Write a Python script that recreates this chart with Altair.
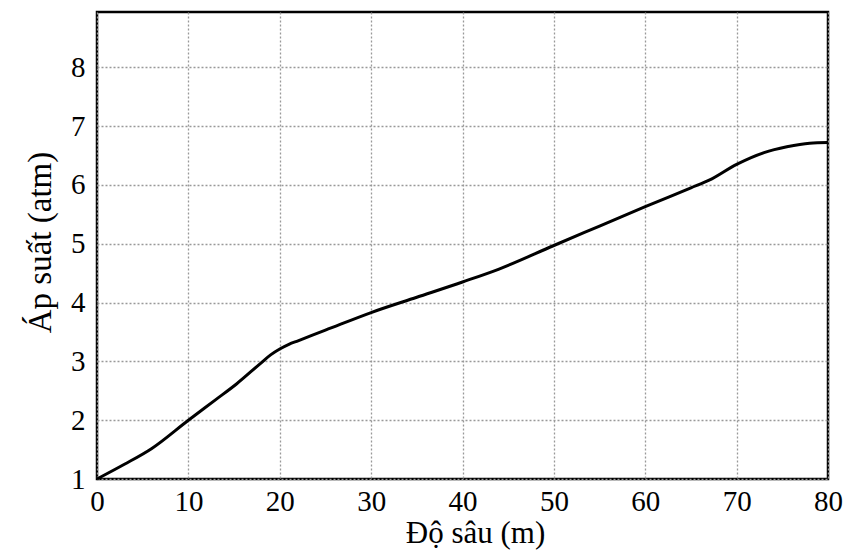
import altair as alt
import pandas as pd

depth = [0, 3, 6, 10, 13, 15.3, 18, 19, 20, 21, 22, 25, 30, 35, 40, 44, 50, 55, 60, 65, 67, 70, 73, 75.5, 78, 80]
pressure = [1.0, 1.25, 1.52, 2.0, 2.35, 2.62, 2.98, 3.11, 3.21, 3.29, 3.35, 3.53, 3.83, 4.09, 4.35, 4.57, 4.97, 5.30, 5.63, 5.95, 6.08, 6.35, 6.55, 6.65, 6.71, 6.72]
x_ticks = [0, 10, 20, 30, 40, 50, 60, 70, 80]
y_ticks = [1, 2, 3, 4, 5, 6, 7, 8]

df = pd.DataFrame({"depth": depth, "pressure": pressure})

FONT = "Liberation Serif"

chart = alt.Chart(df).mark_line(color="black", strokeWidth=3, interpolate="monotone").encode(
    x=alt.X("depth:Q", scale=alt.Scale(domain=[0, 80], nice=False, zero=False),
            axis=alt.Axis(values=x_ticks, title="Độ sâu (m)", ticks=False, domain=False,
                          labelPadding=8, titleX=378, titleY=63, titleBaseline="alphabetic",
                          titleFontSize=31)),
    y=alt.Y("pressure:Q", scale=alt.Scale(domain=[1, 8.94], nice=False, zero=False),
            axis=alt.Axis(values=y_ticks, title="Áp suất (atm)", ticks=False, domain=False,
                          labelPadding=12, titleX=-47, titleY=230, titleBaseline="alphabetic",
                          titleFontSize=33)),
).properties(
    width=731, height=467,
    autosize=alt.AutoSizeParams(type="none"),
    padding={"left": 89, "top": 4, "right": 17, "bottom": 71},
).configure_view(
    stroke="black", strokeWidth=2.5
).configure_axis(
    labelFont=FONT, titleFont=FONT, labelFontSize=29,
    labelColor="black", titleColor="black", titleFontWeight="normal",
    gridColor="#999999", gridDash=[2, 2], gridWidth=1.3, gridOpacity=1,
    labelFlush=False, labelOverlap=False,
)

chart.save("out.html", embed_options={"renderer": "svg", "actions": False})
